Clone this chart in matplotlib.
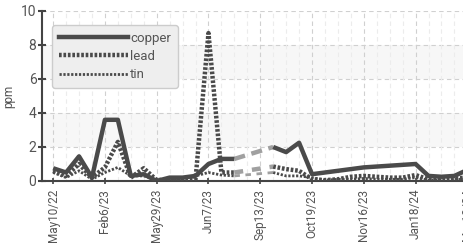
import numpy as np
import matplotlib
matplotlib.use("Agg")
import matplotlib.pyplot as plt
from matplotlib.lines import Line2D

plt.rcParams['font.family'] = ['Roboto', 'DejaVu Sans']

tick_labels = ["May10/22", "Feb6/23", "May29/23", "Jun7/23", "Sep13/23",
               "Oct19/23", "Nov16/23", "Jan18/24", "Mar13/24"]
nan = np.nan
copper = [0.75, 0.5, 1.45, 0.2, 3.6, 3.6, 0.3, 0.4, 0.0, 0.2, 0.2, 0.3, 1.0,
          1.3, 1.3, nan, nan, 2.0, 1.7, 2.25, 0.4, 0.5, 0.6, 0.7, 0.8, 0.85,
          0.9, 0.95, 1.0, 0.3, 0.25, 0.3, 0.65]
lead = [0.6, 0.3, 1.0, 0.2, 0.8, 2.3, 0.2, 0.75, 0.05, 0.1, 0.1, 0.1, 8.7,
        0.5, 0.5, nan, nan, 0.85, 0.7, 0.6, 0.1, 0.05, 0.1, 0.25, 0.3, 0.25,
        0.2, 0.2, 0.35, 0.1, 0.1, 0.15, 0.2]
tin = [0.5, 0.2, 0.6, 0.1, 0.5, 0.8, 0.3, 0.3, 0.05, 0.05, 0.1, 0.3, 0.5,
       0.35, 0.3, nan, nan, 0.5, 0.3, 0.3, 0.2, 0.05, 0.1, 0.1, 0.15, 0.1,
       0.1, 0.1, 0.2, 0.05, 0.05, 0.1, 0.1]

n = len(copper)
x = np.arange(n)

fig = plt.figure(figsize=(4.64, 2.46), dpi=100)
ax = fig.add_axes([42/464, 1-181/246, 1-42/464 + 0.01, 170/246])

ax.set_xlim(-0.86, n - 1 + 0.1)
ax.set_ylim(0, 10)

# bands
for lo, hi in [(2, 4), (6, 8)]:
    ax.axhspan(lo, hi, color='#f7f7f7', zorder=0, lw=0)

# grid
for yv in [2, 4, 6, 8, 10]:
    ax.axhline(yv, color='#d0d0d0', lw=0.8, ls=(0, (4, 3)), zorder=1)
for xi in x:
    major = (xi % 4 == 0)
    ax.axvline(xi, color='#d0d0d0' if major else '#ececec', lw=0.8,
               ls=(0, (4, 3)), zorder=1)

col = '#4a4a4a'
gapcol = '#a0a0a0'
styles = [
    (copper, dict(lw=3.2, ls='-'), 'copper'),
    (lead, dict(lw=3.2, ls=(0, (0.6, 0.4))), 'lead'),
    (tin, dict(lw=2.0, ls=(0, (0.8, 0.6))), 'tin'),
]
for data, st, name in styles:
    arr = np.array(data, dtype=float)
    ax.plot(x, arr, color=col, zorder=3, solid_capstyle='butt',
            dash_capstyle='butt', **st)
    valid = ~np.isnan(arr)
    i = 0
    while i < n:
        if not valid[i]:
            j = i
            while j < n and not valid[j]:
                j += 1
            if i > 0 and j < n:
                ax.plot([i - 1, j], [arr[i - 1], arr[j]], color=gapcol,
                        lw=st['lw'], ls=(0, (2.5, 1.5)) if name == 'copper' else (0, (2, 2)),
                        zorder=2)
            i = j
        else:
            i += 1

ax.set_xticks(np.arange(0, n, 4))
ax.set_xticklabels(tick_labels, rotation=90, fontsize=8.5, color='#555555')
ax.set_yticks([0, 2, 4, 6, 8, 10])
ax.set_yticklabels(['0', '2', '4', '6', '8', '10'], fontsize=10, color='#555555')
ax.set_ylabel('ppm', fontsize=8.5, color='#555555', labelpad=4)

for s in ['top', 'right']:
    ax.spines[s].set_visible(False)
for s in ['left', 'bottom']:
    ax.spines[s].set_color('#444444')
    ax.spines[s].set_linewidth(1.5)
ax.tick_params(axis='y', direction='inout', length=6, width=1.5, color='#444444', pad=1)
ax.tick_params(axis='x', direction='inout', length=5, width=1.2, color='#444444', pad=3)

handles = [Line2D([], [], color=col, **styles[0][1]),
           Line2D([], [], color=col, **styles[1][1]),
           Line2D([], [], color=col, **styles[2][1])]
leg = ax.legend(handles, ['copper', 'lead', 'tin'], loc='upper left',
                bbox_to_anchor=(0.015, 0.94), fontsize=9.5, handlelength=5.2,
                handletextpad=0.2, labelspacing=0.4, borderpad=0.5,
                borderaxespad=0.3, frameon=True, fancybox=True,
                labelcolor='#555555')
leg.get_frame().set_facecolor('#eeeeee')
leg.get_frame().set_edgecolor('#cccccc')
leg.get_frame().set_alpha(1)

fig.savefig('out.png', dpi=100)
